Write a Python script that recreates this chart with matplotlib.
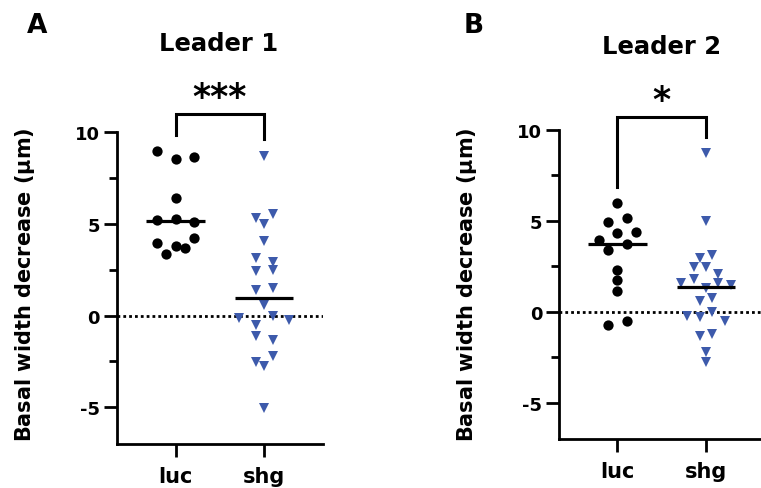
import numpy as np
import matplotlib
matplotlib.use("Agg")
import matplotlib.pyplot as plt
from matplotlib.ticker import MultipleLocator

plt.rcParams['font.family'] = ['DejaVu Sans']
plt.rcParams['font.weight'] = 'bold'

# ---------------- data ----------------
categories = ['luc', 'shg']
titles = ['Leader 1', 'Leader 2']
panel_letters = ['A', 'B']
sig_labels = ['***', '*']
ylabel = r'Basal width decrease ($\mathrm{\mu}$m)'

luc_A = [8.96, 8.55, 8.64, 6.40, 5.22, 5.27, 5.09, 3.96, 3.78, 4.24, 3.36, 3.67]
shg_A = [8.69, 5.33, 5.55, 4.98, 4.09, 3.15, 2.91, 2.45, 2.49, 1.40, 1.49, 0.58,
         -0.15, -0.51, 0.00, -0.24, -1.13, -1.31, -2.55, -2.18, -2.73, -5.05]
luc_B = [5.95, 4.93, 5.13, 3.94, 4.30, 4.40, 3.39, 3.74, 2.27, 1.72, 1.14, -0.73, -0.51]
shg_B = [8.70, 4.98, 2.97, 3.11, 2.47, 2.47, 2.05, 1.56, 1.78, 1.28, 1.59, 1.45,
         0.57, 0.73, -0.24, -0.27, -0.02, -0.53, -1.34, -1.21, -2.20, -2.75]

y_ticks_major = [-5, 0, 5, 10]
y_limits = (-7, 10)

BLUE = '#3D5AAB'


def swarm_offsets(values, row_height=0.54, base_step=0.21, max_half=0.28):
    """GraphPad-like scatter-dot layout: values close together share a row,
    rows are spread symmetrically; within a row list order gives left-to-right."""
    vals = np.asarray(values, dtype=float)
    order = np.argsort(-vals, kind='stable')
    rows, cur, start = [], [], None
    for i in order:
        if start is None or start - vals[i] > row_height:
            if cur:
                rows.append(cur)
            cur, start = [i], vals[i]
        else:
            cur.append(i)
    if cur:
        rows.append(cur)
    nmax = max(len(r) for r in rows)
    step = base_step if nmax < 2 else min(base_step, 2 * max_half / (nmax - 1))
    offs = np.zeros(len(vals))
    for r in rows:
        r = sorted(r)
        n = len(r)
        for k, i in enumerate(r):
            offs[i] = (k - (n - 1) / 2) * step
    return offs


W, H = 761, 489
fig = plt.figure(figsize=(W / 100, H / 100), dpi=100)

# axes rectangles (figure fractions)
rects = [
    [116.7 / W, (H - 445) / H, 206.0 / W, (445 - 133.3) / H],
    [559.0 / W, (H - 440) / H, 205.5 / W, (440 - 130.7) / H],
]
xlims = [(-0.666, 1.66), (-0.657, 1.66)]
datasets = [(luc_A, shg_A), (luc_B, shg_B)]
title_pos = [(219, 51), (662, 54)]
letter_pos = [(27, 33), (464, 33)]
ylabel_x = [25, 467]

for p in range(2):
    ax = fig.add_axes(rects[p])
    luc, shg = datasets[p]
    # scatter dots
    for gi, (vals, mk, col, ms) in enumerate([(luc, 'o', 'black', 7.4),
                                               (shg, 'v', BLUE, 6.6)]):
        offs = swarm_offsets(vals)
        ax.plot(gi + offs, vals, linestyle='none', marker=mk, color=col,
                markersize=ms, markeredgewidth=0, clip_on=False, zorder=3)
        med = np.median(vals)
        ax.plot([gi - 0.33, gi + 0.33], [med, med], color='black', lw=2.3,
                solid_capstyle='butt', zorder=4)

    # zero line
    ax.axhline(0, color='black', lw=2.0, linestyle=(0, (1, 1.1)), zorder=2)

    ax.set_xlim(*xlims[p])
    ax.set_ylim(*y_limits)
    ax.set_xticks([0, 1])
    ax.set_xticklabels(categories, fontsize=15, fontweight='bold')
    ax.set_yticks(y_ticks_major)
    ax.set_yticklabels([str(t) for t in y_ticks_major], fontsize=13, fontweight='bold')
    ax.yaxis.set_minor_locator(MultipleLocator(2.5))
    for s in ['top', 'right']:
        ax.spines[s].set_visible(False)
    for s in ['left', 'bottom']:
        ax.spines[s].set_linewidth(2.0)
        ax.spines[s].set_capstyle('projecting')
    ax.tick_params(axis='y', which='major', length=9.5, width=2.0, pad=2.5)
    ax.tick_params(axis='y', which='minor', length=6, width=2.0)
    ax.tick_params(axis='x', which='major', length=9.5, width=2.0, pad=6)
    ax.tick_params(axis='x', which='minor', length=0)
    ax.spines['left'].set_bounds(y_limits[0], y_limits[1])

    # significance bracket
    arm_l = max(luc) + 0.92
    arm_r = max(shg) + 0.92
    top = max(arm_l, arm_r) + 1.1
    ax.plot([0, 0, 1, 1], [arm_l, top, top, arm_r], color='black', lw=2.2,
            clip_on=False, solid_joinstyle='miter', zorder=5)
    ax.annotate(sig_labels[p], xy=(0.5, top), xytext=(0, 0), textcoords='offset points',
                ha='center', va='bottom', fontsize=25, fontweight='bold',
                annotation_clip=False)

    # title, panel letter, y label
    fig.text(title_pos[p][0] / W, 1 - title_pos[p][1] / H, titles[p],
             ha='center', va='baseline', fontsize=17.5, fontweight='bold')
    fig.text(letter_pos[p][0] / W, 1 - letter_pos[p][1] / H, panel_letters[p],
             ha='left', va='baseline', fontsize=19, fontweight='bold')
    fig.text(ylabel_x[p] / W, 1 - 285 / H, ylabel, rotation=90,
             ha='center', va='center', fontsize=15, fontweight='bold')

fig.savefig('out.png', dpi=100)
